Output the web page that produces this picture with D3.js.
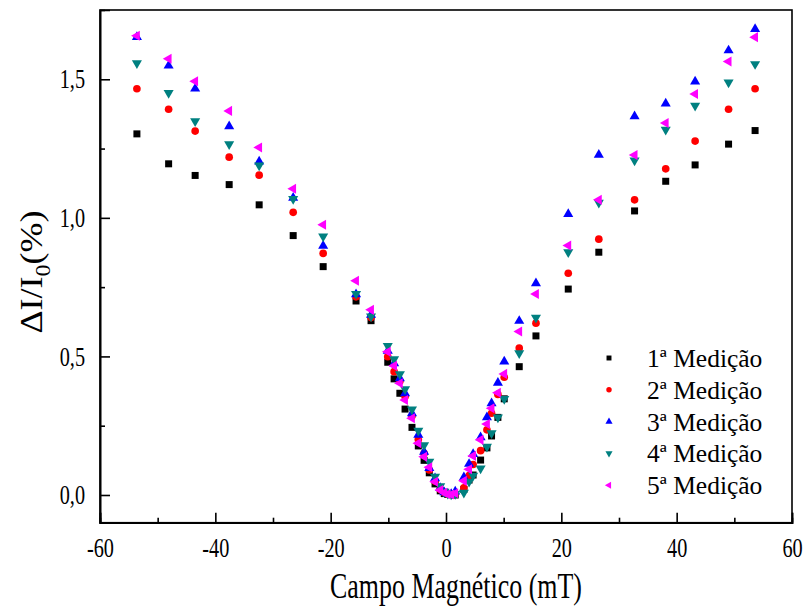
<!DOCTYPE html>
<html><head><meta charset="utf-8">
<script src="https://cdn.jsdelivr.net/npm/d3@7"></script>
<style>body{margin:0;background:#fff}svg{display:block}
svg text{font-family:"Liberation Serif","Times New Roman",Times,serif;}</style>
</head><body>
<svg id="c" width="805" height="610"></svg>
<script>
const field = [-53.6,-48.1,-43.5,-37.6,-32.4,-26.5,-21.3,-15.6,-13.0,-10.1,-9.0,-8.0,-7.1,-5.9,-4.8,-3.8,-2.9,-1.9,-1.0,-0.3,0.3,0.9,1.6,
  3.1,4.0,4.7,6.0,7.1,7.9,9.0,10.1,12.7,15.6,21.2,26.5,32.7,38.1,43.2,49.0,53.6];
const med1 = [1.303,1.195,1.153,1.120,1.047,0.936,0.824,0.700,0.629,0.479,0.419,0.367,0.310,0.244,0.177,0.125,0.080,0.040,0.015,0.005,0.002,0.001,0.000,
  0.020,0.054,0.072,0.126,0.170,0.213,0.280,0.347,0.463,0.574,0.743,0.876,1.025,1.132,1.191,1.266,1.315];
const med2 = [1.466,1.392,1.313,1.219,1.154,1.020,0.872,0.715,0.640,0.499,0.445,0.410,0.355,0.285,0.200,0.150,0.090,0.050,0.020,0.008,0.003,0.002,0.005,
  0.026,0.070,0.110,0.160,0.235,0.295,0.363,0.425,0.530,0.620,0.800,0.923,1.065,1.177,1.277,1.392,1.466];
const med3 = [1.652,1.549,1.466,1.330,1.203,1.072,0.899,0.724,0.650,0.520,0.475,0.421,0.367,0.295,0.217,0.156,0.097,0.060,0.025,0.010,0.004,0.003,0.012,
  0.064,0.112,0.148,0.208,0.280,0.331,0.405,0.481,0.628,0.764,1.014,1.227,1.366,1.412,1.492,1.604,1.681];
const med4 = [1.558,1.451,1.349,1.266,1.189,1.068,0.933,0.726,0.644,0.538,0.490,0.436,0.382,0.309,0.232,0.180,0.120,0.066,0.032,0.012,0.005,0.002,0.004,
  0.008,0.048,0.070,0.096,0.174,0.223,0.280,0.347,0.512,0.640,0.876,1.055,1.207,1.318,1.405,1.489,1.555];
const med5 = [1.657,1.574,1.493,1.386,1.254,1.105,0.975,0.773,0.668,0.517,0.466,0.403,0.343,0.277,0.187,0.138,0.100,0.048,0.018,0.008,0.003,0.002,0.006,
  0.051,0.093,0.141,0.199,0.256,0.313,0.369,0.437,0.590,0.725,0.900,1.065,1.227,1.342,1.447,1.564,1.652];
const seriesNames = ["1ª Medição","2ª Medição","3ª Medição","4ª Medição","5ª Medição"];
const seriesColors = ["#000000","#ff0000","#0000ff","#008080","#ff00ff"];
const xTicks = [-60,-40,-20,0,20,40,60];
const xMinor = [-50,-30,-10,10,30,50];
const yTicks = [0,0.5,1.0,1.5];
const yMinor = [0.25,0.75,1.25];

const series = [med1,med2,med3,med4,med5];
const svg = d3.select("#c");
const L=100,R=792,T=10,B=522.7;
const x = d3.scaleLinear().domain([-60,60]).range([L,R]);
const y = d3.scaleLinear().domain([-0.1,1.75]).range([B,T]);
const font = "Liberation Serif";
const sq = 0.75;

svg.append("rect").attr("x",L).attr("y",T).attr("width",R-L).attr("height",B-T)
  .attr("fill","none").attr("stroke","#000").attr("stroke-width",1.6);

const gx = svg.append("g").attr("transform",`translate(0,${B})`)
  .call(d3.axisBottom(x).tickValues(xTicks).tickSize(-10).tickPadding(15).tickFormat(d=>String(d)));
const gxm = svg.append("g").attr("transform",`translate(0,${B})`)
  .call(d3.axisBottom(x).tickValues(xMinor).tickSize(-5).tickFormat(""));
const gy = svg.append("g").attr("transform",`translate(${L},0)`)
  .call(d3.axisLeft(y).tickValues(yTicks).tickSize(-10).tickPadding(15).tickFormat(d=>d3.format(".1f")(d).replace(".",",")));
const gym = svg.append("g").attr("transform",`translate(${L},0)`)
  .call(d3.axisLeft(y).tickValues(yMinor).tickSize(-5).tickFormat(""));
[gx,gxm,gy,gym].forEach(g=>{
  g.attr("font-family",font).attr("font-size",27);
  g.select(".domain").attr("stroke","#000").attr("stroke-width",1.6);
  g.selectAll(".tick line").attr("stroke","#000").attr("stroke-width",1.6);
  g.selectAll("text").attr("font-size",27).attr("fill","#000");
});
gx.selectAll(".tick text").attr("transform",`scale(${sq},1)`);
gy.selectAll(".tick text").attr("x",-15/sq).attr("transform",`scale(${sq},1)`);

const symbols = [
  {t:d3.symbolSquare, r:0, s:49},
  {t:d3.symbolCircle, r:0, s:46},
  {t:d3.symbolTriangle, r:0, s:44},
  {t:d3.symbolTriangle, r:180, s:44},
  {t:d3.symbolTriangle, r:-90, s:44}
];

series.forEach((vals,i)=>{
  const sy = symbols[i];
  const path = d3.symbol().type(sy.t).size(sy.s)();
  svg.append("g").selectAll("path").data(field.map((f,j)=>[f,vals[j]])).join("path")
    .attr("d",path).attr("fill",seriesColors[i])
    .attr("transform",d=>`translate(${x(d[0])},${y(d[1])}) rotate(${sy.r})`);
});

const lg = svg.append("g");
seriesNames.forEach((n,i)=>{
  const sy = symbols[i];
  const yy = 358 + i*31.8;
  lg.append("path").attr("d",d3.symbol().type(sy.t).size(sy.s*0.5)())
    .attr("fill",seriesColors[i]).attr("transform",`translate(609,${yy}) rotate(${sy.r})`);
  lg.append("text").attr("x",647).attr("y",yy).attr("dy","0.35em")
    .attr("font-family",font).attr("font-size",25.5).text(n);
});

svg.append("text").attr("transform",`translate(456,598) scale(0.72,1)`).attr("text-anchor","middle")
  .attr("font-family",font).attr("font-size",36).text("Campo Magnético (mT)");
const yl = svg.append("text").attr("transform","translate(42,272) scale(0.9,1) rotate(-90)").attr("text-anchor","middle")
  .attr("font-family",font).attr("font-size",36);
yl.append("tspan").text("ΔI/I");
yl.append("tspan").attr("dy",9).attr("font-size",24).text("0");
yl.append("tspan").attr("dy",-9).text("(%)");
</script>
</body></html>
